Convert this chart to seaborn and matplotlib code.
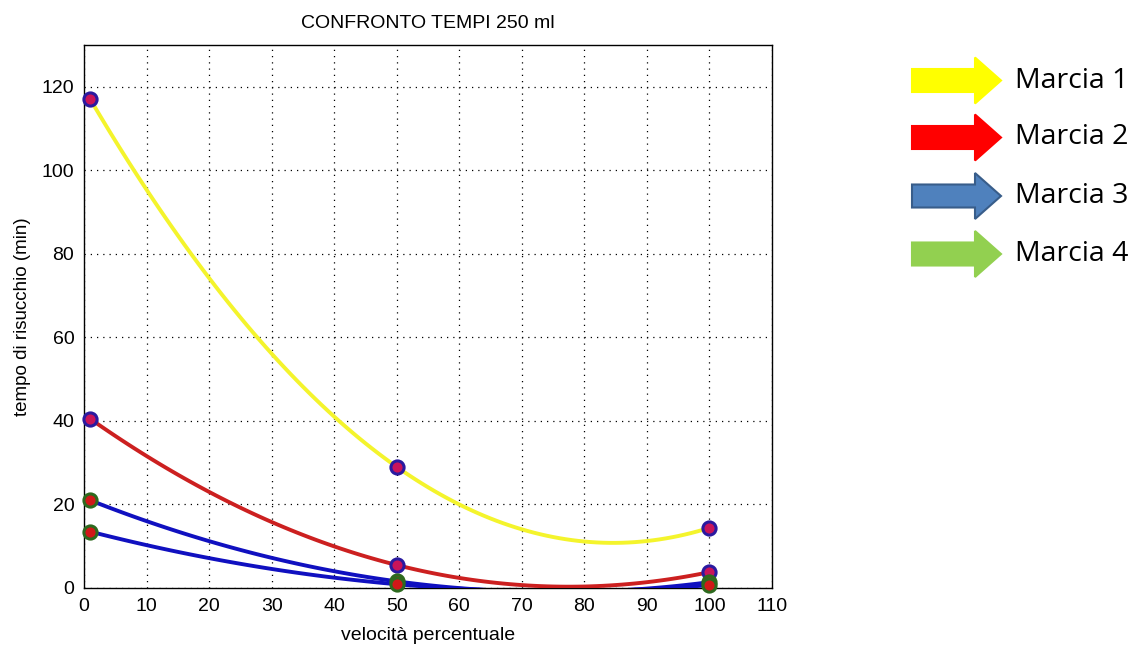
import numpy as np
import pandas as pd
import matplotlib
matplotlib.use('Agg')
import matplotlib.pyplot as plt
from matplotlib.patches import Polygon
import seaborn as sns

# values
velocita = [1, 50, 100]
marcia_1 = [117, 29, 14.4]
marcia_2 = [40.5, 5.5, 3.8]
marcia_3 = [21, 1.6, 1.4]
marcia_4 = [13.5, 0.9, 0.7]

series_names = ['Marcia 1', 'Marcia 2', 'Marcia 3', 'Marcia 4']
line_colors = ['#f4f42c', '#cc2020', '#1010c0', '#1010c0']
marker_edges = ['#2a1aa0', '#2a1aa0', '#2d6a1e', '#2d6a1e']
marker_faces = ['#c8145a', '#c8145a', '#d01818', '#d01818']
arrow_faces = ['#ffff00', '#ff0000', '#4f81bd', '#92d050']
arrow_edges = ['#ffff00', '#ff0000', '#385d8a', '#92d050']

df = pd.DataFrame({
    'velocita': velocita * 4,
    'tempo': marcia_1 + marcia_2 + marcia_3 + marcia_4,
    'marcia': [n for n in series_names for _ in velocita],
})

sns.set_style('white')
plt.rcParams['font.family'] = ['Liberation Sans', 'DejaVu Sans']
plt.rcParams['text.color'] = 'black'
plt.rcParams['axes.labelcolor'] = 'black'

W, H = 1147, 646
fig = plt.figure(figsize=(W / 100, H / 100), dpi=100)
ax = fig.add_axes([84 / W, 1 - 588 / H, (772 - 84) / W, (588 - 45) / H])

# quadratic fits, like the original polyfit curves
for name, lc in zip(series_names, line_colors):
    sub = df[df['marcia'] == name]
    sns.regplot(data=sub, x='velocita', y='tempo', order=2, ci=None, scatter=False,
                ax=ax, line_kws={'color': lc, 'linewidth': 2.8, 'zorder': 3})

for name, ec, fc in zip(series_names, marker_edges, marker_faces):
    sub = df[df['marcia'] == name]
    sns.scatterplot(data=sub, x='velocita', y='tempo', ax=ax, s=90, color=fc,
                    edgecolor=ec, linewidth=2.2, zorder=5, legend=False, clip_on=False)

ax.set_xlim(0, 110)
ax.set_ylim(0, 130)
ax.set_xticks(range(0, 111, 10))
ax.set_yticks(range(0, 121, 20))
ax.grid(True, color='black', linestyle=(0, (1, 4)), linewidth=0.9)
ax.tick_params(direction='in', length=5, labelsize=14, colors='black', pad=7)
for sp in ax.spines.values():
    sp.set_color('black')
    sp.set_linewidth(1.0)
ax.set_xlabel('velocità percentuale', fontsize=14, labelpad=9)
ax.set_ylabel('tempo di risucchio (min)', fontsize=13.5, labelpad=8)
ax.set_title('CONFRONTO TEMPI 250 ml', fontsize=14, pad=12)

# arrow legend on the right, drawn in pixel units
pix = matplotlib.transforms.Affine2D().scale(1 / W, -1 / H).translate(0, 1) + fig.transFigure
centers = [80.5, 137.5, 196, 254]
for cy, name, fc, ec in zip(centers, series_names, arrow_faces, arrow_edges):
    pts = [(912, cy - 11.5), (975, cy - 11.5), (975, cy - 23), (1001, cy),
           (975, cy + 23), (975, cy + 11.5), (912, cy + 11.5)]
    fig.patches.append(Polygon(pts, closed=True, facecolor=fc, edgecolor=ec,
                               linewidth=1.5, transform=pix))
    fig.text(1015 / W, 1 - cy / H, name, fontsize=20.5, family='Open Sans',
             va='center', ha='left', color='black')

fig.savefig('out.png', dpi=100)
